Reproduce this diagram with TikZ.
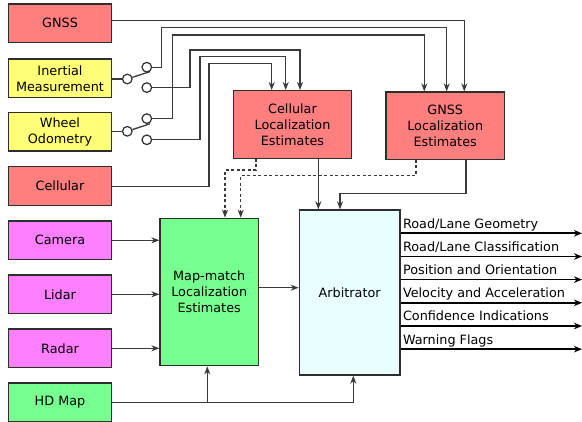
\documentclass[tikz,border=0pt]{standalone}
\usepackage{fontspec}
\setmainfont{DejaVu Sans}
\usetikzlibrary{arrows.meta,calc}
\definecolor{cred}{HTML}{FF7F7F}
\definecolor{cyel}{HTML}{FFFF77}
\definecolor{cmag}{HTML}{FF80FF}
\definecolor{cgrn}{HTML}{77FF90}
\definecolor{ccyn}{HTML}{E9FFFF}
\definecolor{bd}{HTML}{2E2E2E}
\definecolor{ln}{HTML}{3A3A3A}
\begin{document}
\begin{tikzpicture}[x=1pt,y=-1pt,
  font=\fontsize{12.8}{16}\selectfont,
  box/.style={draw=bd,line width=1.3pt,minimum width=103pt,minimum height=38.7pt,align=center,inner sep=0pt},
  bigbox/.style={draw=bd,line width=1.3pt,align=center,inner sep=0pt},
  contact/.style={circle,draw=bd,line width=1.2pt,fill=white,minimum size=9.6pt,inner sep=0pt},
  tip/.style={-{Stealth[length=8pt,width=6pt,inset=2.5pt]}},
  conn/.style={draw=ln,line width=1.3pt,tip},
  wire/.style={draw=ln,line width=1.3pt},
  dconn/.style={conn,dash pattern=on 3pt off 2.5pt},
  outconn/.style={draw=black,line width=1.8pt,-{Stealth[length=8pt,width=6.5pt,inset=2.5pt]}},
  outlbl/.style={anchor=base west,inner sep=0pt}
]
\useasboundingbox (0,0) rectangle (582,422);

% left column
\node[box,fill=cred] (gnss) at (60,23.3) {GNSS};
\node[box,fill=cyel] (imu) at (60,78.3) {Inertial\\Measurement};
\node[box,fill=cyel] (wheel) at (60,131.7) {Wheel\\Odometry};
\node[box,fill=cred] (cell) at (60,186.2) {Cellular};
\node[box,fill=cmag] (cam) at (60,240.3) {Camera};
\node[box,fill=cmag] (lidar) at (60,294.3) {Lidar};
\node[box,fill=cmag] (radar) at (60,348.3) {Radar};
\node[box,fill=cgrn] (hdmap) at (60,402.3) {HD Map};

% estimators
\node[bigbox,fill=cred,minimum width=118.4pt,minimum height=67.6pt] (cle) at (292.5,124.5) {Cellular\\Localization\\Estimates};
\node[bigbox,fill=cred,minimum width=118.3pt,minimum height=67.3pt] (gle) at (445.2,125.7) {GNSS\\Localization\\Estimates};
\node[bigbox,fill=cgrn,minimum width=98.3pt,minimum height=147.4pt] (mm) at (209.2,292) {Map-match\\Localization\\Estimates};
\node[bigbox,fill=ccyn,minimum width=100.7pt,minimum height=165pt] (arb) at (349.7,292.5) {Arbitrator};

% switches
\node[contact] (ip) at (127.3,79) {};
\node[contact] (wp) at (127.3,131.3) {};
\coordinate (ia) at (150,71.6);
\coordinate (wa) at (150,123.8);
\draw[wire] (imu.east |- ip) -- (ip);
\draw[wire] (wheel.east |- wp) -- (wp);
\draw[wire] (ip) -- (ia);
\draw[wire] (wp) -- (wa);
\node[contact] (iu) at (146.8,67.2) {};
\node[contact] (il) at (146.8,87.6) {};
\node[contact] (wu) at (146.8,118.6) {};
\node[contact] (wl) at (146.8,139.8) {};

% wiring to estimators
\draw[conn] ([yshift=2.6pt]gnss.east) -| ([xshift=19.1pt]gle.north);
\draw[conn] (iu.east) -| (161.7,27.3) -| ([xshift=1.5pt]gle.north);
\draw[conn] (wu.east) -| (172.3,35) -| ([xshift=-20.9pt]gle.north);
\draw[conn] (il.east) -| (190,50) -| ([xshift=7.5pt]cle.north);
\draw[conn] (wl.east) -| (200,56.7) -| ([xshift=-6.8pt]cle.north);
\draw[conn] ([yshift=-0.5pt]cell.east) -| (209,63.3) -| ([xshift=-20.8pt]cle.north);

% dashed to map-match
\draw[dconn] ([xshift=-36.5pt]cle.south) |- (225,170) -- ([xshift=15.8pt]mm.north);
\draw[dconn] ([xshift=-29.2pt]gle.south) |- (240.7,175.7) -- ([xshift=31.5pt]mm.north);

% solid to arbitrator
\draw[conn] ([xshift=25.8pt]cle.south) -- ([xshift=-31.4pt]arb.north);
\draw[conn] ([xshift=20.8pt]gle.south) |- (340,193.3) -- ([xshift=-9.7pt]arb.north);

% sensors to map-match
\draw[conn] (cam.east) -- (cam.east -| mm.west);
\draw[conn] (lidar.east) -- (lidar.east -| mm.west);
\draw[conn] (radar.east) -- (radar.east -| mm.west);
\draw[conn] ([yshift=4.3pt]mm.east) -- ([yshift=4.3pt]mm.east -| arb.west);

% HD map
\coordinate (hb) at (207.3,402.3);
\draw[conn] (hdmap.east) -| ([xshift=3.6pt]arb.south);
\draw[conn] (hb) -- (hb |- mm.south);

% outputs
\foreach \y/\t [count=\i] in {233.3/Road\slash Lane Geometry,256.5/Road\slash Lane Classification,279.6/Position and Orientation,302.8/Velocity and Acceleration,326/Confidence Indications,349.2/Warning Flags}{
  \coordinate (o\i) at (582,\y);
  \draw[outconn] (arb.east |- o\i) -- (o\i);
  \node[outlbl] (l\i) at (402.8,\y-5) {\t};
}
\end{tikzpicture}
\end{document}
